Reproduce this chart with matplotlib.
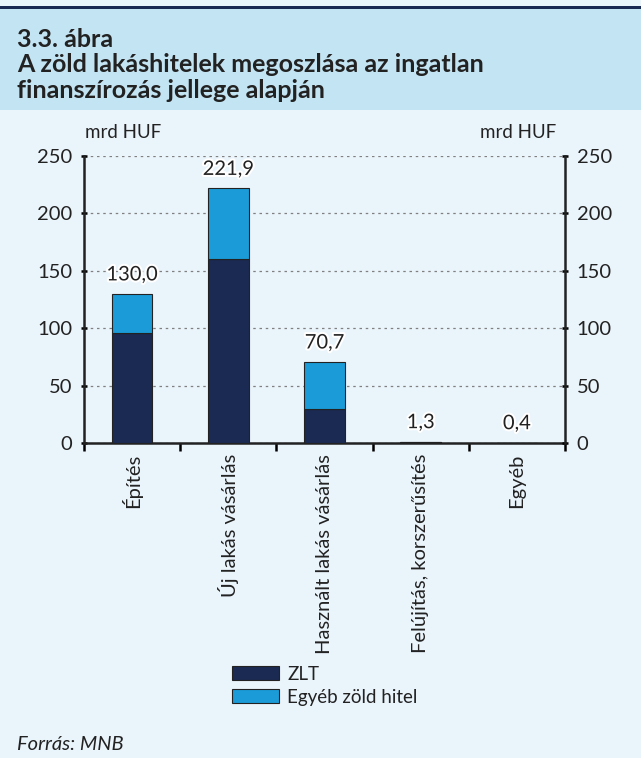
import matplotlib.pyplot as plt
import matplotlib.patheffects as pe
from matplotlib.patches import Rectangle
import numpy as np

plt.rcParams['font.family'] = ['Lato', 'DejaVu Sans']

categories = ['Építés', 'Új lakás vásárlás', 'Használt lakás vásárlás',
              'Felújítás, korszerűsítés', 'Egyéb']
zlt = [96.0, 160.0, 29.3, 1.0, 0.3]
totals = [130.0, 221.9, 70.7, 1.3, 0.4]
other = [t - z for t, z in zip(totals, zlt)]
total_labels = ['130,0', '221,9', '70,7', '1,3', '0,4']
yticks = [0, 50, 100, 150, 200, 250]
title_lines = ['3.3. ábra', 'A zöld lakáshitelek megoszlása az ingatlan',
               'finanszírozás jellege alapján']

navy = '#1B2A52'
blue = '#1B9CD8'
text_col = '#222222'
fs = 14.5

fig = plt.figure(figsize=(6.41, 7.58), dpi=100)
fig.patch.set_facecolor('#EAF4FB')

# header band and top rule
fig.add_artist(Rectangle((0, 1 - 110 / 758), 1, 102 / 758, transform=fig.transFigure,
                         facecolor='#C3E4F3', edgecolor='none', zorder=0))
fig.add_artist(Rectangle((0, 1 - 9 / 758), 1, 3 / 758, transform=fig.transFigure,
                         facecolor='#1B2A52', edgecolor='none', zorder=1))
for i, line in enumerate(title_lines):
    fig.text(17 / 641, 1 - (47 + 25.5 * i) / 758, line, fontsize=18, fontweight='bold',
             color=text_col, va='baseline', ha='left')

ax = fig.add_axes([84 / 641, 1 - 443 / 758, 481 / 641, 287 / 758])
ax.set_facecolor('none')
x = np.arange(len(categories))
w = 0.42
ax.bar(x, zlt, w, color=navy, edgecolor='#222222', linewidth=0.8, label='ZLT', zorder=3)
ax.bar(x, other, w, bottom=zlt, color=blue, edgecolor='#222222', linewidth=0.8,
       label='Egyéb zöld hitel', zorder=3)

for xi, t, lab in zip(x, totals, total_labels):
    ax.text(xi, t + 9, lab, ha='center', va='bottom', fontsize=fs, color=text_col,
            path_effects=[pe.withStroke(linewidth=3, foreground='white')], zorder=4)

ax.set_xlim(-0.5, 4.5)
ax.set_ylim(0, 250)
ax.set_yticks(yticks)
ax.yaxis.grid(True, linestyle=(0, (2, 3)), color='#808080', linewidth=0.9, zorder=1)
ax.set_xticks(x)
ax.set_xticklabels(categories, rotation=90, fontsize=fs, color=text_col)
ax.set_xticks(np.arange(-0.5, 5, 1), minor=True)
ax.tick_params(axis='x', which='major', length=0, pad=8)
ax.tick_params(axis='x', which='minor', length=6, width=1.8, direction='out')
ax.tick_params(axis='y', labelsize=fs, labelcolor=text_col, length=5, width=1.8,
               direction='inout', pad=6)
for s in ['top', 'right']:
    ax.spines[s].set_visible(False)
for s in ['left', 'bottom']:
    ax.spines[s].set_linewidth(1.8)
    ax.spines[s].set_color('#222222')

ax2 = ax.twinx()
ax2.set_ylim(0, 250)
ax2.set_yticks(yticks)
ax2.tick_params(axis='y', labelsize=fs, labelcolor=text_col, length=5, width=1.8,
                direction='inout', pad=6)
for s in ['top', 'left', 'bottom']:
    ax2.spines[s].set_visible(False)
ax2.spines['right'].set_linewidth(1.8)
ax2.spines['right'].set_color('#222222')

fig.text(85 / 641, 1 - 133 / 758, 'mrd HUF', fontsize=13.5, color=text_col, va='center')
fig.text(556 / 641, 1 - 133 / 758, 'mrd HUF', fontsize=13.5, color=text_col, va='center',
         ha='right')

handles, labels = ax.get_legend_handles_labels()
leg = fig.legend(handles, labels, loc='upper left', bbox_to_anchor=(215 / 641, 1 - 649 / 758),
                 frameon=False, fontsize=13.5, handlelength=2.5, handleheight=0.75,
                 labelspacing=0.3, handletextpad=0.45, labelcolor=text_col)

fig.text(17 / 641, 1 - 745 / 758, 'Forrás: MNB', fontsize=fs, style='italic',
         color=text_col, va='center')

fig.savefig('out.png', dpi=100, facecolor=fig.get_facecolor())
